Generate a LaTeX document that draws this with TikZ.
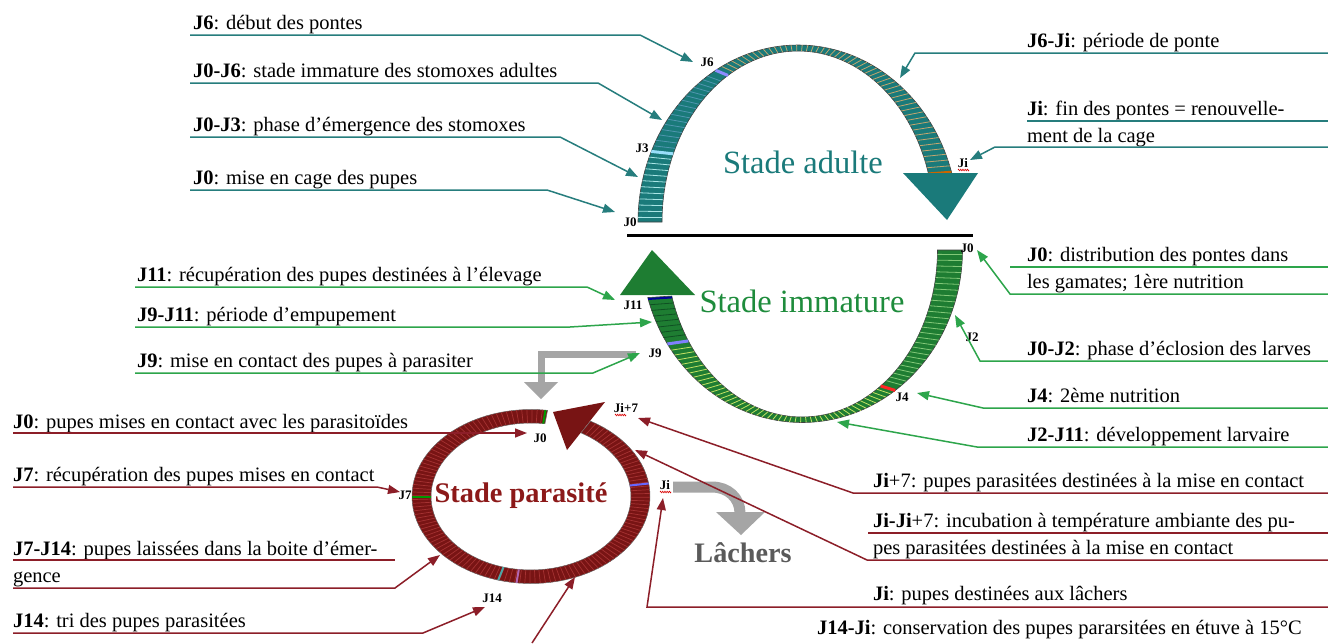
\documentclass[tikz,border=0pt]{standalone}
\usepackage{fontspec}
\setmainfont{Liberation Serif}
\usetikzlibrary{arrows.meta,decorations.pathmorphing}
\definecolor{tealL}{RGB}{38,125,125}
\definecolor{tealB}{RGB}{26,122,122}
\definecolor{tealS1}{RGB}{170,230,230}
\definecolor{tealS2}{RGB}{80,150,175}
\definecolor{tealS3}{RGB}{195,165,110}
\definecolor{greenL}{RGB}{45,165,75}
\definecolor{greenB}{RGB}{30,125,50}
\definecolor{greenS1}{RGB}{130,200,120}
\definecolor{greenS2}{RGB}{195,225,100}
\definecolor{greenS3}{RGB}{15,80,35}
\definecolor{greenT}{RGB}{30,140,60}
\definecolor{redL}{RGB}{140,30,40}
\definecolor{redB}{RGB}{120,20,20}
\definecolor{redS}{RGB}{165,50,50}
\definecolor{redT}{RGB}{140,25,25}
\definecolor{grayA}{RGB}{165,165,165}
\definecolor{grayT}{RGB}{90,90,90}
\newcommand{\ArcStripes}[9]{%
  \foreach \t in {#7}{%
    \pgfmathsetmacro\xa{#1+#3*cos(\t)}\pgfmathsetmacro\ya{#2-#4*sin(\t)}%
    \pgfmathsetmacro\xb{#1+#5*cos(\t)}\pgfmathsetmacro\yb{#2-#6*sin(\t)}%
    \draw[#8,line width=#9] (\xa,\ya) -- (\xb,\yb);}}
\newcommand{\ArcBand}[9]{%
  \path[#9] plot[domain=#7:#8, samples=90, variable=\t] ({#1+#3*cos(\t)},{#2-#4*sin(\t)})
    -- plot[domain=#8:#7, samples=90, variable=\t] ({#1+#5*cos(\t)},{#2-#6*sin(\t)}) -- cycle;}
\begin{document}
\begin{tikzpicture}[x=1pt,y=-1pt,
  lbl/.style={font=\fontsize{20.5}{24}\selectfont, anchor=base west, inner sep=0pt, outer sep=0pt},
  mk/.style={font=\fontsize{13}{15}\selectfont\bfseries, inner sep=0pt},
  lead/.style={line width=1.5pt, -{Triangle[length=12pt,width=9pt]}},
  uline/.style={line width=1.5pt},
  squig/.style={draw=red!85!black, line width=0.6pt, decorate, decoration={zigzag, amplitude=0.8pt, segment length=2.2pt}},
  big/.style={font=\fontsize{32.5}{36}\selectfont, anchor=base, inner sep=0pt}]
\useasboundingbox (0,0) rectangle (1328,643);
\fill[white] (0,0) rectangle (1328,643);

% ---------- top arc : Stade adulte ----------
\ArcBand{798}{222}{160}{177}{136}{171}{180}{16}{fill=tealB, draw=black!75, line width=0.6pt}
\ArcStripes{798}{222}{160}{177}{136}{171}{178.5,176.5,...,158.5}{tealS1}{0.8pt}
\ArcStripes{798}{222}{160}{177}{136}{171}{154.5,152.5,...,123.5}{tealS2}{0.8pt}
\ArcStripes{798}{222}{160}{177}{136}{171}{118.5,116.5,...,17.5}{tealS3}{0.8pt}
\ArcStripes{798}{222}{160}{177}{136}{171}{156.5}{cyan!40}{3pt}
\ArcStripes{798}{222}{160}{177}{136}{171}{121}{blue!45}{3pt}
\ArcStripes{798}{222}{160}{177}{136}{171}{16.5}{orange!80!black}{2pt}
\fill[tealB] (903,173) -- (978,173) -- (947,220) -- cycle;
\node[big, text=tealB] (sa) at (803,173) {Stade adulte};

\draw[line width=3pt] (627,235) -- (973,235);

% ---------- middle arc : Stade immature ----------
\ArcBand{802}{250}{160.5}{172.5}{135.5}{167}{0}{-164}{fill=greenB, draw=black!75, line width=0.6pt}
\ArcStripes{802}{250}{160.5}{172.5}{135.5}{167}{-1.5,-3.5,...,-52.5}{greenS1}{0.8pt}
\ArcStripes{802}{250}{160.5}{172.5}{135.5}{167}{-56.5,-58.5,...,-144.5}{greenS2}{0.8pt}
\ArcStripes{802}{250}{160.5}{172.5}{135.5}{167}{-149.5,-151.5,...,-161.5}{greenS3}{0.8pt}
\ArcStripes{802}{250}{160.5}{172.5}{135.5}{167}{-54.5}{red!85}{3pt}
\ArcStripes{802}{250}{160.5}{172.5}{135.5}{167}{-147}{blue!50}{3pt}
\ArcStripes{802}{250}{160.5}{172.5}{135.5}{167}{-163.5}{blue!60!black}{2pt}
\fill[greenB] (652,250) -- (695,295) -- (620,295) -- cycle;
\node[big, text=greenT] (si) at (802,312) {Stade immature};

% ---------- ring : Stade parasite ----------
\ArcBand{531}{496.5}{119}{87}{100}{73.5}{82}{420}{fill=redB, draw=black!60, line width=0.5pt}
\ArcStripes{531}{496.5}{119}{87}{100}{73.5}{84.5,87,...,417}{redS}{0.7pt}
\ArcStripes{531}{496.5}{119}{87}{100}{73.5}{83}{green!60!black}{2pt}
\ArcStripes{531}{496.5}{119}{87}{100}{73.5}{180}{green!60!black}{2pt}
\ArcStripes{531}{496.5}{119}{87}{100}{73.5}{254}{teal!70}{2pt}
\ArcStripes{531}{496.5}{119}{87}{100}{73.5}{263}{violet!60}{2pt}
\ArcStripes{531}{496.5}{119}{87}{100}{73.5}{368.6}{blue!60}{2pt}
\fill[redB] (553,412) -- (605,402) -- (567,450) -- cycle;
\node[font=\fontsize{28.4}{32}\selectfont\bfseries, text=redT, anchor=base, inner sep=0pt] (sp) at (521,502) {Stade parasité};

% ---------- gray arrows ----------
\draw[grayA, line width=7pt] (636,354) -- (541,354) -- (541,383);
\fill[grayA] (524,382) -- (558,382) -- (541,399) -- cycle;
\draw[grayA, line width=11pt] (673,487) -- (712,487) .. controls (728,487) and (740,498) .. (740,513);
\fill[grayA] (716,512) -- (765,512) -- (741,535) -- cycle;
\node[font=\fontsize{28.2}{32}\selectfont\bfseries, text=grayT, anchor=base, inner sep=0pt] (la) at (743,562) {Lâchers};

% ---------- marker labels ----------
\node[mk] (a0) at (630,222) {J0};
\node[mk] (a3) at (642,148) {J3};
\node[mk] (a6) at (707,62) {J6};
\node[mk] (ai) at (963,163) {Ji};
\draw[squig] (958,170) -- (969,170);
\node[mk] (b0) at (967,248) {J0};
\node[mk] (b2) at (972,337) {J2};
\node[mk] (b4) at (902,397) {J4};
\node[mk] (b9) at (655,353) {J9};
\node[mk] (b11) at (633,305) {J11};
\node[mk] (c0) at (540,438) {J0};
\node[mk] (c7) at (405,495) {J7};
\node[mk] (ci) at (665,485) {Ji};
\draw[squig] (660,492) -- (671,492);
\node[mk] (c7i) at (626,408) {Ji+7};
\draw[squig] (615,415) -- (626,415);
\node[mk] (c14) at (492,598) {J14};

% ---------- top-left labels ----------
\node[lbl] (l1) at (193,29) {\textbf{J6}: début des pontes};
\node[lbl] (l2) at (193,77) {\textbf{J0-J6}: stade immature des stomoxes adultes};
\node[lbl] (l3) at (193,131) {\textbf{J0-J3}: phase d’émergence des stomoxes};
\node[lbl] (l4) at (193,184) {\textbf{J0}: mise en cage des pupes};
\coordinate (l1s) at (190,35);  \coordinate (l1c) at (640,35);  \coordinate (l1t) at (693,62);
\coordinate (l2s) at (190,83);  \coordinate (l2c) at (598,83);  \coordinate (l2t) at (662,120);
\coordinate (l3s) at (190,137); \coordinate (l3c) at (560,137); \coordinate (l3t) at (638,177);
\coordinate (l4s) at (190,190); \coordinate (l4c) at (547,190); \coordinate (l4t) at (615,212);
\draw[lead, tealL] (l1s) -- (l1c) -- (l1t);
\draw[lead, tealL] (l2s) -- (l2c) -- (l2t);
\draw[lead, tealL] (l3s) -- (l3c) -- (l3t);
\draw[lead, tealL] (l4s) -- (l4c) -- (l4t);

% ---------- top-right labels ----------
\node[lbl] (r1) at (1027,47) {\textbf{J6-Ji}: période de ponte};
\node[lbl] (r2) at (1027,115) {\textbf{Ji}: fin des pontes = renouvelle-};
\node[lbl] (r2b) at (1027,142) {ment de la cage};
\coordinate (r1s) at (1328,53);  \coordinate (r1c) at (915,53);  \coordinate (r1t) at (900,78);
\coordinate (r2s) at (1328,121); \coordinate (r2e) at (1027,121);
\coordinate (r3s) at (1328,147); \coordinate (r3c) at (995,147); \coordinate (r3t) at (970,160);
\draw[lead, tealL] (r1s) -- (r1c) -- (r1t);
\draw[uline, tealL] (r2s) -- (r2e);
\draw[lead, tealL] (r3s) -- (r3c) -- (r3t);

% ---------- middle-left labels ----------
\node[lbl] (m1) at (137,281) {\textbf{J11}: récupération des pupes destinées à l’élevage};
\node[lbl] (m2) at (137,321) {\textbf{J9-J11}: période d’empupement};
\node[lbl] (m3) at (137,367) {\textbf{J9}: mise en contact des pupes à parasiter};
\coordinate (m1s) at (135,287); \coordinate (m1c) at (587,287); \coordinate (m1t) at (615,300);
\coordinate (m2s) at (135,327); \coordinate (m2c) at (570,327); \coordinate (m2t) at (652,322);
\coordinate (m3s) at (135,373); \coordinate (m3c) at (593,373); \coordinate (m3t) at (640,353);
\draw[lead, greenL] (m1s) -- (m1c) -- (m1t);
\draw[lead, greenL] (m2s) -- (m2c) -- (m2t);
\draw[lead, greenL] (m3s) -- (m3c) -- (m3t);

% ---------- middle-right labels ----------
\node[lbl] (n1) at (1027,261) {\textbf{J0}: distribution des pontes dans};
\node[lbl] (n1b) at (1027,288) {les gamates; 1ère nutrition};
\node[lbl] (n2) at (1027,355) {\textbf{J0-J2}: phase d’éclosion des larves};
\node[lbl] (n3) at (1027,402) {\textbf{J4}: 2ème nutrition};
\node[lbl] (n4) at (1027,441) {\textbf{J2-J11}: développement larvaire};
\coordinate (n1s) at (1328,267); \coordinate (n1e) at (1010,267);
\coordinate (n1bs) at (1328,294); \coordinate (n1bc) at (1010,294); \coordinate (n1bt) at (977,250);
\coordinate (n2s) at (1328,361); \coordinate (n2c) at (980,361); \coordinate (n2t) at (955,315);
\coordinate (n3s) at (1328,408); \coordinate (n3c) at (983,408); \coordinate (n3t) at (917,393);
\coordinate (n4s) at (1328,447); \coordinate (n4c) at (977,447); \coordinate (n4t) at (837,422);
\draw[uline, greenL] (n1s) -- (n1e);
\draw[lead, greenL] (n1bs) -- (n1bc) -- (n1bt);
\draw[lead, greenL] (n2s) -- (n2c) -- (n2t);
\draw[lead, greenL] (n3s) -- (n3c) -- (n3t);
\draw[lead, greenL] (n4s) -- (n4c) -- (n4t);

% ---------- lower-right labels ----------
\node[lbl] (p1) at (873,487) {\textbf{Ji}+7: pupes parasitées destinées à la mise en contact};
\node[lbl] (p2) at (873,527) {\textbf{Ji-Ji}+7: incubation à température ambiante des pu-};
\node[lbl] (p2b) at (873,554) {pes parasitées destinées à la mise en contact};
\node[lbl] (p3) at (873,600) {\textbf{Ji}: pupes destinées aux lâchers};
\node[lbl] (p4) at (817,634) {\textbf{J14-Ji}: conservation des pupes pararsitées en étuve à 15°C};
\coordinate (p1s) at (1328,493); \coordinate (p1c) at (853,493); \coordinate (p1t) at (638,418);
\coordinate (p2s) at (1328,533); \coordinate (p2e) at (868,533);
\coordinate (p2bs) at (1328,560); \coordinate (p2bc) at (867,560); \coordinate (p2bt) at (635,450);
\coordinate (p3s) at (1328,607); \coordinate (p3c) at (647,607); \coordinate (p3t) at (663,498);
\coordinate (p4s) at (532,643); \coordinate (p4t) at (575,577);
\draw[lead, redL] (p1s) -- (p1c) -- (p1t);
\draw[uline, redL] (p2s) -- (p2e);
\draw[lead, redL] (p2bs) -- (p2bc) -- (p2bt);
\draw[lead, redL] (p3s) -- (p3c) -- (p3t);
\draw[lead, redL] (p4s) -- (p4t);

% ---------- lower-left labels ----------
\node[lbl] (q1) at (13,428) {\textbf{J0}: pupes mises en contact avec les parasitoïdes};
\node[lbl] (q2) at (13,481) {\textbf{J7}: récupération des pupes mises en contact};
\node[lbl] (q3) at (13,555) {\textbf{J7-J14}: pupes laissées dans la boite d’émer-};
\node[lbl] (q3b) at (13,582) {gence};
\node[lbl] (q4) at (13,627) {\textbf{J14}: tri des pupes parasitées};
\coordinate (q1s) at (13,433); \coordinate (q1t) at (527,433);
\coordinate (q2s) at (13,487); \coordinate (q2c) at (377,487); \coordinate (q2t) at (400,492);
\coordinate (q3s) at (13,560); \coordinate (q3e) at (395,560);
\coordinate (q3bs) at (13,588); \coordinate (q3bc) at (395,588); \coordinate (q3bt) at (440,555);
\coordinate (q4s) at (13,633); \coordinate (q4c) at (423,633); \coordinate (q4t) at (485,607);
\draw[lead, redL] (q1s) -- (q1t);
\draw[lead, redL] (q2s) -- (q2c) -- (q2t);
\draw[uline, redL] (q3s) -- (q3e);
\draw[lead, redL] (q3bs) -- (q3bc) -- (q3bt);
\draw[lead, redL] (q4s) -- (q4c) -- (q4t);
\end{tikzpicture}
\end{document}
